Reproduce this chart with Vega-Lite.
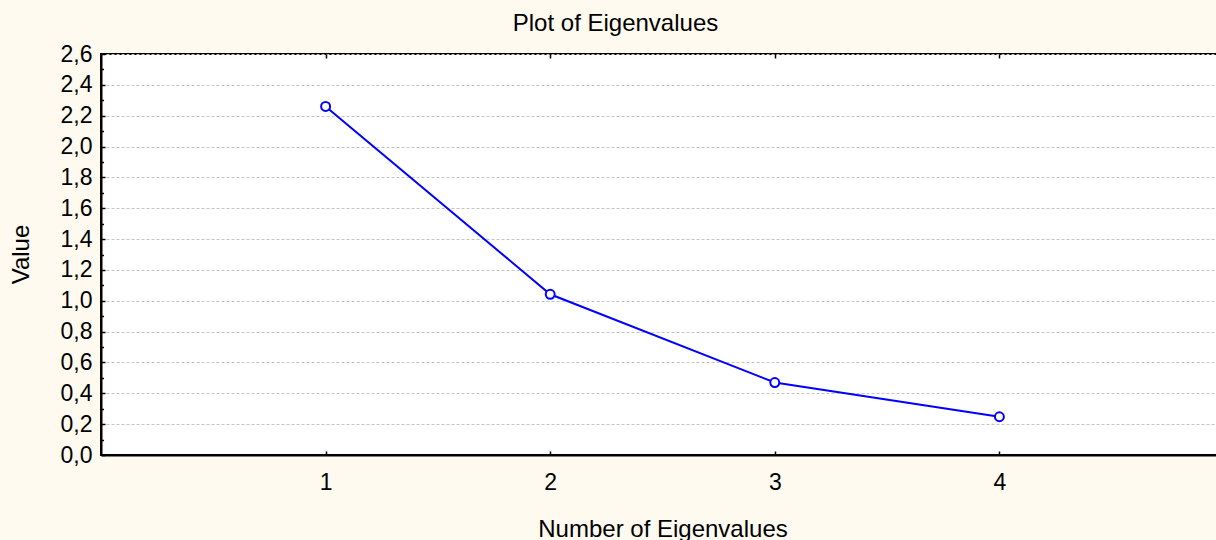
{
  "$schema": "https://vega.github.io/schema/vega-lite/v6.json",
  "width": 1123,
  "height": 401,
  "autosize": "none",
  "padding": {"left": 101, "top": 54, "right": 0, "bottom": 85},
  "background": "#FFFAEF",
  "title": {
    "text": "Plot of Eigenvalues",
    "fontSize": 24,
    "font": "Liberation Sans",
    "fontWeight": "normal",
    "color": "#000000",
    "anchor": "middle",
    "frame": "group",
    "dx": -47,
    "baseline": "alphabetic",
    "offset": -12
  },
  "config": {
    "view": {"fill": "white", "stroke": "black", "strokeWidth": 2},
    "font": "Liberation Sans"
  },
  "data": {
    "values": [
      {"n": 1, "v": 2.26},
      {"n": 2, "v": 1.042},
      {"n": 3, "v": 0.47},
      {"n": 4, "v": 0.248}
    ]
  },
  "layer": [
    {
      "mark": {
        "type": "line",
        "color": "#0000FF",
        "strokeWidth": 2,
        "point": {"filled": true, "fill": "white", "stroke": "#0000FF", "strokeWidth": 2, "size": 80, "opacity": 1}
      },
      "encoding": {
        "x": {
          "field": "n",
          "type": "quantitative",
          "scale": {"domain": [0, 5], "nice": false, "zero": false},
          "axis": {
            "orient": "bottom",
            "values": [1, 2, 3, 4],
            "format": "d",
            "labelFontSize": 23,
            "labelColor": "#000000",
            "labelBaseline": "alphabetic",
            "labelPadding": 38,
            "tickSize": -4,
            "tickColor": "#000000",
            "tickWidth": 1.5,
            "domainColor": "#000000",
            "domainWidth": 2,
            "grid": false,
            "title": "Number of Eigenvalues",
            "titleFontSize": 24,
            "titleFontWeight": "normal",
            "titleColor": "#000000",
            "titleBaseline": "alphabetic",
            "titleY": 81
          }
        },
        "y": {
          "field": "v",
          "type": "quantitative",
          "scale": {"domain": [0, 2.6], "nice": false, "zero": false},
          "axis": {
            "orient": "left",
            "values": [0, 0.1, 0.2, 0.3, 0.4, 0.5, 0.6, 0.7, 0.8, 0.9, 1.0, 1.1, 1.2, 1.3, 1.4, 1.5, 1.6, 1.7, 1.8, 1.9, 2.0, 2.1, 2.2, 2.3, 2.4, 2.5, 2.6],
            "labelExpr": "round(datum.value*10) % 2 == 0 ? replace(format(datum.value, '.1f'), '.', ',') : ''",
            "labelOverlap": false,
            "labelFontSize": 23,
            "labelColor": "#000000",
            "labelPadding": 13,
            "tickSize": {"condition": {"test": "round(datum.value*10) % 2 == 0", "value": -4}, "value": -2.5},
            "tickColor": "#000000",
            "tickWidth": 1.5,
            "domainColor": "#000000",
            "domainWidth": 2,
            "grid": true,
            "gridColor": "#C4C4C4",
            "gridDash": [3, 2],
            "gridWidth": 1,
            "gridOpacity": {"condition": {"test": "round(datum.value*10) % 2 == 0", "value": 1}, "value": 0},
            "title": "Value",
            "titleFontSize": 24,
            "titleFontWeight": "normal",
            "titleColor": "#000000",
            "titleAngle": -90,
            "titleBaseline": "alphabetic",
            "titleAlign": "center",
            "titleX": -73,
            "titleY": 200
          }
        }
      }
    },
    {
      "mark": {"type": "rule", "strokeOpacity": 0},
      "encoding": {
        "x": {
          "field": "n",
          "type": "quantitative",
          "axis": {
            "orient": "top",
            "values": [1, 2, 3, 4],
            "labels": false,
            "domain": false,
            "grid": false,
            "tickSize": -4,
            "tickColor": "#000000",
            "tickWidth": 1.5,
            "title": null
          }
        }
      }
    }
  ],
  "resolve": {"axis": {"x": "independent"}}
}
